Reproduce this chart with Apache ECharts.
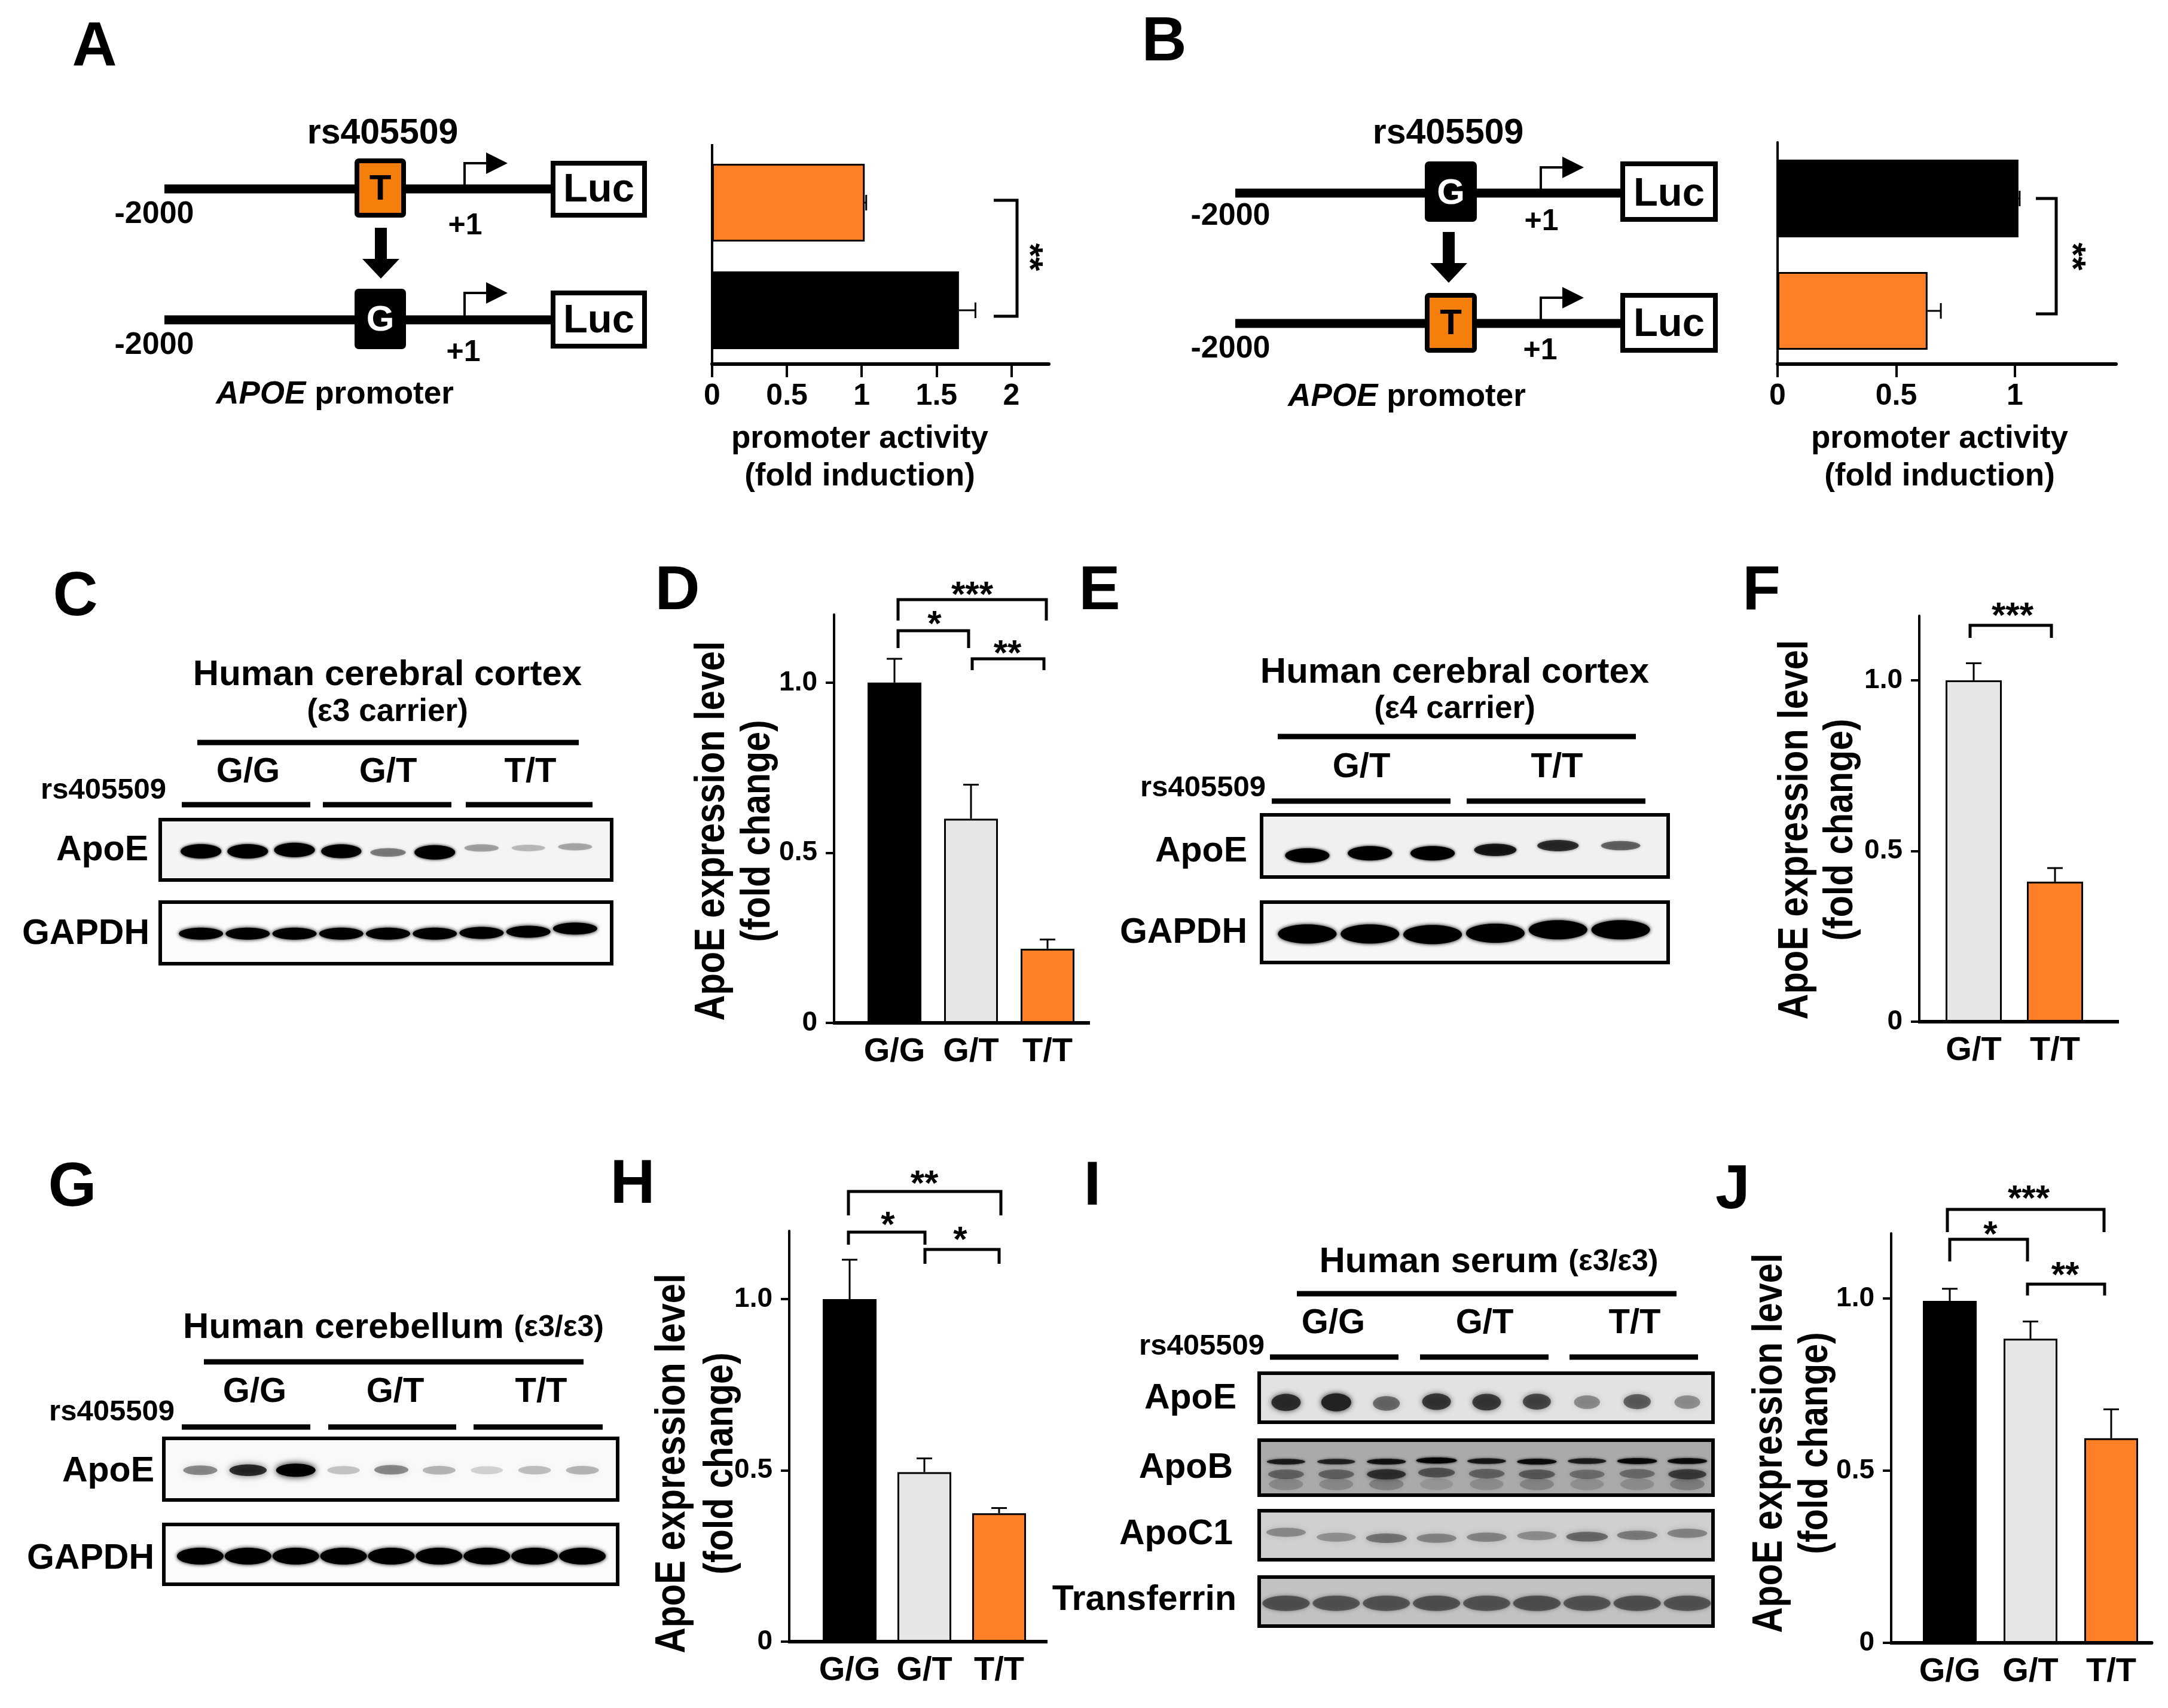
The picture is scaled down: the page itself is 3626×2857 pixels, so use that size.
<!DOCTYPE html>
<html><head><meta charset="utf-8">
<style>html,body{margin:0;padding:0;background:#fff}#c{width:3626px;height:2857px}</style>
<script src="https://cdn.jsdelivr.net/npm/echarts@6/dist/echarts.min.js"></script>
</head><body><div id="c"></div>
<script>
// ---------- chart values ----------
const promoterCatsA = ['T', 'G'];
const promoterMeanA = [1.02, 1.65];
const promoterErrA = [1.03, 1.76];
const promoterCatsB = ['G', 'T'];
const promoterMeanB = [1.015, 0.632];
const promoterErrB = [1.02, 0.688];
const promoterTicksA = [0, 0.5, 1, 1.5, 2];
const promoterTicksB = [0, 0.5, 1];
const expressionTicks = [0, 0.5, 1];

const genotypes3 = ['G/G', 'G/T', 'T/T'];
const genotypes2 = ['G/T', 'T/T'];
const meanD = [1.0, 0.60, 0.218];
const errD = [1.07, 0.70, 0.245];
const meanF = [1.0, 0.41];
const errF = [1.05, 0.45];
const meanH = [1.0, 0.495, 0.375];
const errH = [1.115, 0.535, 0.39];
const meanJ = [0.993, 0.883, 0.594];
const errJ = [1.028, 0.933, 0.678];

// western-blot band intensity (0..1) and migration (fraction of blot height from the bottom)
const cApoE = [1.0, 1.0, 1.0, 0.95, 0.42, 1.0, 0.3, 0.22, 0.28];
const cApoEMig = [0.476, 0.476, 0.497, 0.476, 0.456, 0.459, 0.53, 0.53, 0.55];
const cGapdh = [1, 1, 1, 1, 1, 1, 1, 1, 1];
const cGapdhMig = [0.489, 0.489, 0.489, 0.489, 0.489, 0.489, 0.5, 0.52, 0.57];
const eApoE = [1, 1, 1, 0.8, 0.7, 0.5];
const eApoEMig = [0.346, 0.383, 0.383, 0.436, 0.505, 0.505];
const eGapdh = [1, 1, 1, 1, 1, 1];
const eGapdhMig = [0.473, 0.473, 0.462, 0.484, 0.543, 0.543];
const gApoE = [0.4, 0.75, 1.0, 0.2, 0.4, 0.25, 0.15, 0.22, 0.25];
const gApoEMig = [0.483, 0.483, 0.483, 0.483, 0.49, 0.483, 0.483, 0.483, 0.483];
const gGapdh = [1, 1, 1, 1, 1, 1, 1, 1, 1];
const gGapdhMig = [0.469, 0.469, 0.469, 0.469, 0.469, 0.469, 0.469, 0.469, 0.469];
const iApoE = [0.9, 1.0, 0.55, 0.82, 0.8, 0.72, 0.4, 0.6, 0.38];
const iApoEMig = [0.405, 0.405, 0.385, 0.42, 0.41, 0.42, 0.41, 0.42, 0.41];
const iApoBUpper = [0.75, 0.7, 0.82, 1.0, 0.78, 0.88, 0.75, 0.92, 0.88];
const iApoBUpperMig = [0.61, 0.61, 0.61, 0.63, 0.62, 0.61, 0.62, 0.62, 0.62];
const iApoBMiddle = [0.45, 0.45, 0.8, 0.55, 0.45, 0.5, 0.38, 0.4, 0.7];
const iApoBMiddleMig = [0.38, 0.38, 0.38, 0.41, 0.39, 0.38, 0.38, 0.39, 0.38];
const iApoBSmear = [0.25, 0.25, 0.3, 0.15, 0.22, 0.28, 0.2, 0.22, 0.32];
const iApoBSmearMig = [0.2, 0.2, 0.2, 0.2, 0.2, 0.2, 0.2, 0.2, 0.2];
const iApoC1 = [0.42, 0.38, 0.55, 0.45, 0.45, 0.4, 0.62, 0.5, 0.45];
const iApoC1Mig = [0.56, 0.46, 0.44, 0.44, 0.46, 0.49, 0.47, 0.5, 0.54];
const iTransferrin = [0.74, 0.72, 0.72, 0.74, 0.72, 0.76, 0.72, 0.74, 0.72];
const iTransferrinMig = [0.465, 0.465, 0.465, 0.465, 0.465, 0.465, 0.465, 0.465, 0.465];

// ---------- helpers ----------
const FONT = '"Liberation Sans", Arial, sans-serif';
const ORANGE = '#FF7F27', GRAY = '#E6E6E6', BLACK = '#000000';
const colourOf = {'G/G': BLACK, 'G/T': GRAY, 'T/T': ORANGE, 'T': ORANGE, 'G': BLACK};
const g = [];
function T(text, x, y, size, o) {
  o = o || {};
  g.push({type: 'text', silent: true, x, y: o.rot ? y : y + 2, rotation: o.rot || 0, scaleX: o.sx || 1, z: 5,
    style: {text, fontFamily: FONT, fontWeight: o.w || 'bold', fontSize: size, fill: o.fill || '#000',
      fontStyle: o.it ? 'italic' : 'normal', align: o.a || 'center', verticalAlign: 'middle',
      textAlign: o.a || 'center', textVerticalAlign: 'middle', rich: o.rich}});
}
function L(points, w, cap) {
  g.push({type: 'polyline', silent: true, z: 4, shape: {points},
    style: {stroke: '#000', lineWidth: w, fill: null, lineCap: cap || 'butt', lineJoin: 'miter'}});
}
function R(x0, y0, x1, y1, fill, sw, r) {
  g.push({type: 'rect', silent: true, z: 1, shape: {x: x0, y: y0, width: x1 - x0, height: y1 - y0, r: r || 0},
    style: {fill, stroke: sw ? '#000' : null, lineWidth: sw || 0}});
}
function P(points, z) {
  g.push({type: 'polygon', silent: true, z: z || 4, shape: {points}, style: {fill: '#000'}});
}
function stars(s, x, y, rot) {
  T(s, x, rot ? y : y + 3, 60, {rot: rot || 0});
}
function bracket(x1, x2, yt, yb1, yb2) { L([[x1, yb1], [x1, yt], [x2, yt], [x2, yb2]], 5); }

// promoter schematic
function schematic(s) {
  L([[s.x0, s.y1], [s.lucL, s.y1]], 15);
  L([[s.x0, s.y2], [s.lucL, s.y2]], 15);
  const rows = [[s.y1, s.b1, s.l1, s.a1, s.c1], [s.y2, s.b2, s.l2, s.a2, s.c2]];
  rows.forEach((r, i) => {
    const letter = i === 0 ? s.first : s.second;
    const fill = letter === 'T' ? '#F57F0A' : '#000';
    g.push({type: 'rect', silent: true, z: 6, shape: {x: s.boxL + 4, y: r[1][0] + 4, width: s.boxR - s.boxL - 8, height: r[1][1] - r[1][0] - 8, r: 3},
      style: {fill, stroke: '#000', lineWidth: 8}});
    g.push({type: 'text', silent: true, z: 7, x: (s.boxL + s.boxR) / 2, y: r[0] + 1,
      style: {text: letter, fontFamily: FONT, fontWeight: 'bold', fontSize: 60, fill: letter === 'T' ? '#000' : '#fff', textAlign: 'center', textVerticalAlign: 'middle', align: 'center', verticalAlign: 'middle'}});
    g.push({type: 'rect', silent: true, z: 6, shape: {x: s.lucL + 4, y: r[2][0] + 4, width: s.lucR - s.lucL - 8, height: r[2][1] - r[2][0] - 8},
      style: {fill: '#fff', stroke: '#000', lineWidth: 8}});
    T('Luc', (s.lucL + s.lucR) / 2 , r[0] + 1, 67);
    g[g.length - 1].z = 7;
    // transcription start arrow
    L([[s.tss, r[0]], [s.tss, r[3]], [s.tss + 38, r[3]]], 4);
    P([[s.tss + 36, r[3] - 18], [s.tss + 72, r[3]], [s.tss + 36, r[3] + 18]]);
    T('+1', r[4][0], r[4][1], 50);
    T('-2000', s.minusX, i === 0 ? s.m1 : s.m2, 52);
  });
  const ax = s.down;
  P([[ax - 10, s.d0], [ax + 10, s.d0], [ax + 10, s.d0 + 52], [ax + 31, s.d0 + 52], [ax, s.d0 + 85], [ax - 31, s.d0 + 52], [ax - 10, s.d0 + 52]]);
  T('rs405509', s.rsX, 222, 59);
  T('{i|APOE} promoter', s.apoeX, s.apoeY, 53, {rich: {i: {fontStyle: 'italic', fontWeight: 'bold', fontSize: 53, fontFamily: FONT}}});
}

const grid = [], xAxis = [], yAxis = [], series = [];
function addGrid(b) { grid.push(b); return grid.length - 1; }

const barStyle = name => ({color: colourOf[name], borderColor: '#000', borderWidth: colourOf[name] === BLACK ? 0 : 3});

// error bars: capped whisker from mean to upper limit
function errorSeries(idx, data, horizontal) {
  series.push({type: 'custom', xAxisIndex: idx, yAxisIndex: idx, z: 3, clip: false, data,
    renderItem(p, api) {
      const cap = 13;
      if (horizontal) {
        const a = api.coord([api.value(0), api.value(1)]), b = api.coord([api.value(2), api.value(1)]);
        return {type: 'group', children: [
          {type: 'line', shape: {x1: a[0], y1: a[1], x2: b[0], y2: b[1]}, style: {stroke: '#000', lineWidth: 3}},
          {type: 'line', shape: {x1: b[0], y1: b[1] - cap, x2: b[0], y2: b[1] + cap}, style: {stroke: '#000', lineWidth: 3}}]};
      }
      const a = api.coord([api.value(0), api.value(1)]), b = api.coord([api.value(0), api.value(2)]);
      return {type: 'group', children: [
        {type: 'line', shape: {x1: a[0], y1: a[1], x2: b[0], y2: b[1]}, style: {stroke: '#000', lineWidth: 3}},
        {type: 'line', shape: {x1: b[0] - cap, y1: b[1], x2: b[0] + cap, y2: b[1]}, style: {stroke: '#000', lineWidth: 3}}]};
    }});
}

// horizontal promoter bar chart
function hBars(box, cats, means, errs, max, ticks, xOff) {
  const i = addGrid(box);
  xAxis.push({type: 'value', gridIndex: i, min: 0, max, offset: xOff || 0, splitLine: {show: false},
    axisLine: {show: true, lineStyle: {color: '#000', width: 6}},
    axisTick: {show: true, length: 22, customValues: ticks, lineStyle: {color: '#000', width: 4}},
    axisLabel: {customValues: ticks, margin: 29, fontFamily: FONT, fontWeight: 'bold', fontSize: 50, color: '#000', formatter: v => String(v)}});
  yAxis.push({type: 'category', gridIndex: i, data: cats, inverse: true,
    axisLine: {show: true, onZero: false, lineStyle: {color: '#000', width: 4}}, axisTick: {show: false}, axisLabel: {show: false}});
  series.push({type: 'bar', xAxisIndex: i, yAxisIndex: i, barWidth: 130, z: 2,
    data: means.map((v, k) => ({value: v, itemStyle: barStyle(cats[k])}))});
  errorSeries(i, means.map((m, k) => [m, k, errs[k]]), true);
}

// vertical expression bar chart
function vBars(o) {
  const i = addGrid({left: o.left, width: o.spacing * o.cats.length, top: o.top, height: o.base - o.top});
  xAxis.push({type: 'category', gridIndex: i, data: o.cats,
    axisLine: {show: true, onZero: false, lineStyle: {color: '#000', width: 6}}, axisTick: {show: false},
    axisLabel: {margin: 21, interval: 0, fontFamily: FONT, fontWeight: 'bold', fontSize: 56, color: '#000'}});
  yAxis.push({type: 'value', gridIndex: i, min: 0, max: o.max, offset: o.left - o.axisX, splitLine: {show: false},
    axisLine: {show: true, onZero: false, lineStyle: {color: '#000', width: 4}},
    axisTick: {show: true, length: 14, customValues: expressionTicks, lineStyle: {color: '#000', width: 4}},
    axisLabel: {customValues: expressionTicks, margin: 28, fontFamily: FONT, fontWeight: 'bold', fontSize: 46, color: '#000',
      formatter: v => v === 1 ? '1.0' : String(v)}});
  series.push({type: 'bar', xAxisIndex: i, yAxisIndex: i, barWidth: o.barW, z: 2,
    data: o.means.map((v, k) => ({value: v, itemStyle: barStyle(o.cats[k])}))});
  errorSeries(i, o.means.map((m, k) => [k, m, o.errs[k]]), false);
  L([[o.axisX - 2, o.base], [o.left, o.base]], 6);
  L([[o.left + o.spacing * o.cats.length, o.base], [o.axisR, o.base]], 6);
  T('ApoE expression level', o.t1x, o.ty, 70, {rot: Math.PI / 2, sx: 0.85});
  T('(fold change)', o.t2x, o.ty, 68, {rot: Math.PI / 2, sx: 0.87});
}

// western blot panel: soft bands positioned through the axes
function blot(box, laneL, laneW, rows, bg) {
  R(box[0], box[1], box[2], box[3], bg, 6);
  const i = addGrid({left: laneL, width: laneW, top: box[1], height: box[3] - box[1]});
  xAxis.push({type: 'category', gridIndex: i, show: false, data: rows[0].vals.map((_, k) => 'lane ' + (k + 1))});
  yAxis.push({type: 'value', gridIndex: i, show: false, min: 0, max: 1, splitLine: {show: false}});
  rows.forEach(r => {
    const m = r.m === undefined ? 0.3 : r.m;
    series.push({type: 'custom', xAxisIndex: i, yAxisIndex: i, z: 2, clip: false,
      data: r.vals.map((v, k) => [k, r.mig[k], v]),
      renderItem(p, api) {
        const c = api.coord([api.value(0), api.value(1)]), v = api.value(2);
        const col = 'rgba(' + (r.tone || '0,0,0') + ',' + Math.min(1, v).toFixed(2) + ')';
        return {type: 'ellipse', shape: {cx: c[0], cy: c[1], rx: r.rx * (0.78 + 0.22 * v), ry: r.ry * (m + (1 - m) * v)},
          style: {fill: col, shadowBlur: r.blur, shadowColor: col}};
      }});
  });
}

// ---------- panel A ----------
T('A', 158, 78, 104);
schematic({first: 'T', second: 'G', x0: 275, lucL: 921, lucR: 1082, boxL: 593, boxR: 679, y1: 316, y2: 535,
  b1: [265, 364], b2: [483, 584], l1: [269, 364], l2: [486, 583], tss: 777, a1: 273, a2: 490,
  c1: [778, 376], c2: [775, 588], minusX: 258, m1: 357, m2: 576, down: 637, d0: 381, rsX: 640, apoeX: 560, apoeY: 658});
hBars({left: 1191, width: 563, top: 249, height: 360}, promoterCatsA, promoterMeanA, promoterErrA, 2.25, promoterTicksA);
L([[1191, 241], [1191, 250]], 4);
L([[1662, 335], [1701, 335], [1701, 529], [1662, 529]], 5);
stars('**', 1720, 430, -Math.PI / 2);
T('promoter activity', 1438, 732, 53);
T('(fold induction)', 1438, 795, 53);

// ---------- panel B ----------
T('B', 1947, 70, 104);
schematic({first: 'G', second: 'T', x0: 2066, lucL: 2710, lucR: 2873, boxL: 2383, boxR: 2470, y1: 323, y2: 541,
  b1: [270, 371], b2: [490, 590], l1: [270, 371], l2: [490, 590], tss: 2577, a1: 280, a2: 498,
  c1: [2578, 369], c2: [2576, 585], minusX: 2058, m1: 360, m2: 582, down: 2423, d0: 388, rsX: 2422, apoeX: 2353, apoeY: 662});
hBars({left: 2973, width: 566, top: 238, height: 376}, promoterCatsB, promoterMeanB, promoterErrB, 1.426, promoterTicksB, -5);
L([[3405, 332], [3439, 332], [3439, 525], [3405, 525]], 5);
stars('**', 3464, 429, -Math.PI / 2);
T('promoter activity', 3244, 732, 53);
T('(fold induction)', 3244, 795, 53);

// ---------- panel C ----------
T('C', 126, 998, 104);
T('Human cerebral cortex', 648, 1127, 60);
T('(ε3 carrier)', 648, 1189, 53);
L([[330, 1242], [968, 1242]], 9);
T('G/G', 415, 1290, 58); T('G/T', 649, 1290, 58); T('T/T', 887, 1290, 58);
T('rs405509', 173, 1320, 49);
L([[304, 1346], [519, 1346]], 9); L([[540, 1346], [755, 1346]], 9); L([[779, 1346], [991, 1346]], 9);
blot([268, 1371, 1023, 1472], 297, 704, [{vals: cApoE, mig: cApoEMig, rx: 34, ry: 12, blur: 5}], '#f4f4f4');
blot([268, 1509, 1023, 1612], 297, 704, [{vals: cGapdh, mig: cGapdhMig, rx: 37, ry: 10, blur: 6}], '#fbfbfb');
T('ApoE', 248, 1421, 59, {a: 'right'});
T('GAPDH', 250, 1561, 59, {a: 'right'});

// ---------- panel D ----------
T('D', 1133, 988, 104);
vBars({left: 1432, spacing: 128, cats: genotypes3, axisX: 1395, axisR: 1823, top: 1028, base: 1711, max: 1.2, barW: 90,
  means: meanD, errs: errD, t1x: 1192, t2x: 1268, ty: 1390});
bracket(1502, 1750, 1003, 1038, 1038); stars('***', 1626, 992);
bracket(1502, 1620, 1055, 1084, 1084); stars('*', 1563, 1041);
bracket(1626, 1746, 1102, 1121, 1121); stars('**', 1685, 1090);

// ---------- panel E ----------
T('E', 1839, 988, 104);
T('Human cerebral cortex', 2433, 1123, 60);
T('(ε4 carrier)', 2433, 1184, 53);
L([[2137, 1232], [2736, 1232]], 9);
T('G/T', 2277, 1282, 58); T('T/T', 2604, 1282, 58);
T('rs405509', 2012, 1316, 49);
L([[2127, 1340], [2426, 1340]], 9); L([[2453, 1340], [2752, 1340]], 9);
blot([2110, 1363, 2790, 1467], 2134, 629, [{vals: eApoE, mig: eApoEMig, rx: 37, ry: 12, blur: 5}], '#f0f0f0');
blot([2110, 1509, 2790, 1610], 2134, 629, [{vals: eGapdh, mig: eGapdhMig, rx: 49, ry: 16, blur: 6}], '#f6f6f6');
T('ApoE', 2086, 1423, 59, {a: 'right'});
T('GAPDH', 2086, 1559, 59, {a: 'right'});

// ---------- panel F ----------
T('F', 2946, 988, 104);
vBars({left: 3233, spacing: 136, cats: genotypes2, axisX: 3210, axisR: 3544, top: 1030, base: 1709, max: 1.189, barW: 94,
  means: meanF, errs: errF, t1x: 3004, t2x: 3079, ty: 1388});
bracket(3295, 3431, 1046, 1067, 1067); stars('***', 3366, 1027);

// ---------- panel G ----------
T('G', 121, 1986, 104);
T('Human cerebellum {s|(ε3/ε3)}', 658, 2219, 60, {rich: {s: {fontSize: 50, fontWeight: 'bold', fontFamily: FONT}}});
L([[341, 2278], [976, 2278]], 9);
T('G/G', 426, 2327, 58); T('G/T', 661, 2327, 58); T('T/T', 905, 2327, 58);
T('rs405509', 187, 2360, 49);
L([[304, 2387], [519, 2387]], 9); L([[549, 2387], [763, 2387]], 9); L([[792, 2387], [1008, 2387]], 9);
blot([274, 2406, 1033, 2509], 295, 719, [{vals: gApoE, mig: gApoEMig, rx: 33, ry: 11, blur: 12, m: 0.55}], '#f9f9f9');
blot([274, 2550, 1033, 2650], 295, 719, [{vals: gGapdh, mig: gGapdhMig, rx: 39, ry: 14, blur: 6}], '#fbfbfb');
T('ApoE', 258, 2460, 59, {a: 'right'});
T('GAPDH', 258, 2606, 59, {a: 'right'});

// ---------- panel H ----------
T('H', 1058, 1981, 104);
vBars({left: 1358.5, spacing: 125, cats: genotypes3, axisX: 1320, axisR: 1752, top: 2059, base: 2746, max: 1.199, barW: 90,
  means: meanH, errs: errH, t1x: 1126, t2x: 1206, ty: 2448});
bracket(1419, 1674, 1993, 2033, 2033); stars('**', 1546, 1977);
bracket(1419, 1547, 2061, 2082, 2082); stars('*', 1485, 2046);
bracket(1547, 1671, 2090, 2114, 2114); stars('*', 1606, 2071);

// ---------- panel I ----------
T('I', 1827, 1984, 104);
T('Human serum {s|(ε3/ε3)}', 2490, 2109, 60, {rich: {s: {fontSize: 50, fontWeight: 'bold', fontFamily: FONT}}});
L([[2169, 2164], [2804, 2164]], 9);
T('G/G', 2230, 2212, 58); T('G/T', 2483, 2212, 58); T('T/T', 2734, 2212, 58);
T('rs405509', 2010, 2250, 49);
L([[2124, 2270], [2339, 2270]], 9); L([[2375, 2270], [2590, 2270]], 9); L([[2625, 2270], [2840, 2270]], 9);
blot([2106, 2297, 2865, 2379], 2109, 755, [{vals: iApoE, mig: iApoEMig, rx: 25, ry: 15, blur: 10, tone: '35,35,35', m: 0.6}], '#e2e2e2');
blot([2106, 2409, 2865, 2501], 2109, 755, [
  {vals: iApoBSmear, mig: iApoBSmearMig, rx: 34, ry: 11, blur: 8, tone: '50,50,50', m: 0.9},
  {vals: iApoBMiddle, mig: iApoBMiddleMig, rx: 34, ry: 9, blur: 7, tone: '30,30,30', m: 0.8},
  {vals: iApoBUpper, mig: iApoBUpperMig, rx: 34, ry: 5, blur: 4, tone: '5,5,5', m: 0.8}], '#aaaaaa');
blot([2106, 2527, 2865, 2609], 2109, 755, [{vals: iApoC1, mig: iApoC1Mig, rx: 38, ry: 9, blur: 10, tone: '60,60,60', m: 0.75}], '#d0d0d0');
blot([2106, 2638, 2865, 2720], 2109, 755, [{vals: iTransferrin, mig: iTransferrinMig, rx: 42, ry: 14, blur: 6, tone: '60,60,60', m: 0.7}], '#c2c2c2');
T('ApoE', 2068, 2338, 59, {a: 'right'});
T('ApoB', 2062, 2454, 59, {a: 'right'});
T('ApoC1', 2062, 2565, 59, {a: 'right'});
T('Transferrin', 2068, 2675, 59, {a: 'right'});

// ---------- panel J ----------
T('J', 2898, 1990, 104);
vBars({left: 3193.5, spacing: 135, cats: genotypes3, axisX: 3163, axisR: 3597, top: 2063, base: 2748, max: 1.189, barW: 90,
  means: meanJ, errs: errJ, t1x: 2961, t2x: 3037, ty: 2414});
bracket(3257, 3519, 2023, 2061, 2061); stars('***', 3393, 2002);
bracket(3261, 3391, 2073, 2110, 2110); stars('*', 3329, 2062);
bracket(3391, 3520, 2148, 2167, 2167); stars('**', 3454, 2130);

const chart = echarts.init(document.getElementById('c'), null, {width: 3626, height: 2857});
chart.setOption({animation: false, backgroundColor: '#fff', grid, xAxis, yAxis, series, graphic: {elements: g}});
</script></body></html>
